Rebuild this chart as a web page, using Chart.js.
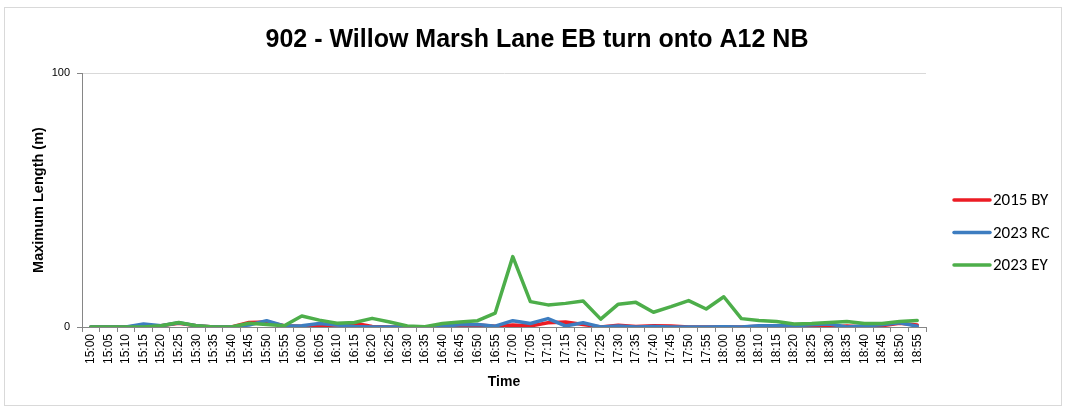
<!DOCTYPE html>
<html>
<head>
<meta charset="utf-8">
<script src="https://cdn.jsdelivr.net/npm/chart.js@4/dist/chart.umd.min.js"></script>
<style>
  html, body { margin: 0; padding: 0; background: #ffffff; }
  #wrap { position: absolute; left: 4px; top: 7px; width: 1056px; height: 397px; border: 1px solid #d9d9d9; }
  canvas { display: block; }
</style>
</head>
<body>
<div id="wrap"><canvas id="c" width="1056" height="397"></canvas></div>
<script>
const chartTitle = "902 - Willow Marsh Lane EB turn onto A12 NB";
const xTitle = "Time";
const yTitle = "Maximum Length (m)";
const times = ["15:00","15:05","15:10","15:15","15:20","15:25","15:30","15:35","15:40","15:45","15:50","15:55",
  "16:00","16:05","16:10","16:15","16:20","16:25","16:30","16:35","16:40","16:45","16:50","16:55",
  "17:00","17:05","17:10","17:15","17:20","17:25","17:30","17:35","17:40","17:45","17:50","17:55",
  "18:00","18:05","18:10","18:15","18:20","18:25","18:30","18:35","18:40","18:45","18:50","18:55"];
const seriesNames = ["2015 BY", "2023 RC", "2023 EY"];
const seriesColors = ["#ec1c24", "#3d7dc0", "#4dae4a"];
const by2015 = [0,0,0,0.5,0.5,1.5,0.5,0,0,1.8,2,0.5,
  0.3,0.5,0.8,1.5,0.2,0,0,0,0.2,0.3,0.8,0.3,
  0.8,0.4,1.7,2,1,0,0.7,0.2,0.5,0.4,0,0,
  0,0,0.3,0,0,0.5,0,0.4,0,0.5,1.5,0.8];
const rc2023 = [0,0,0,1.2,0.5,1.7,0.5,0,0,0.8,2.5,0.4,
  0.5,1.4,0.8,0.2,0,0,0,0,0.3,0.9,1,0.3,
  2.5,1.4,3.3,0.4,1.7,0,0.4,0,0.2,0,0,0,
  0.1,0,0.5,0.5,0.5,0.9,1.2,0,0.5,0.9,1.7,0.3];
const ey2023 = [0,0,0,0,0.5,1.8,0.5,0,0,1.5,1,0.5,
  4.3,2.7,1.5,1.8,3.4,2,0.4,0.1,1.4,2,2.5,5.5,
  27.7,10,8.7,9.3,10.2,3.1,9,9.7,5.8,8,10.4,7.1,
  11.9,3.3,2.6,2.2,1.2,1.4,1.8,2.2,1.4,1.4,2.2,2.6];
const yTicks = [0, 100];

const seriesData = [by2015, rc2023, ey2023];

const overlay = {
  id: 'overlay',
  afterDraw(chart) {
    const ctx = chart.ctx;
    ctx.save();
    // title
    ctx.fillStyle = '#000';
    ctx.font = 'bold 25px "Liberation Sans", Arial, sans-serif';
    ctx.textAlign = 'center';
    ctx.textBaseline = 'alphabetic';
    ctx.fillText(chartTitle, 532, 39);
    // legend
    const ys = [192, 224.5, 257];
    chart.data.datasets.forEach((ds, i) => {
      ctx.strokeStyle = ds.borderColor;
      ctx.lineWidth = 3.5;
      ctx.lineCap = 'round';
      ctx.beginPath();
      ctx.moveTo(949, ys[i]);
      ctx.lineTo(985, ys[i]);
      ctx.stroke();
      ctx.fillStyle = '#000';
      ctx.font = '17px Calibri, Carlito, Lato, sans-serif';
      ctx.textAlign = 'left';
      ctx.textBaseline = 'middle';
      ctx.fillText(ds.label, 988, ys[i] + 1);
    });
    ctx.restore();
  }
};

new Chart(document.getElementById('c'), {
  type: 'line',
  data: {
    labels: times,
    datasets: seriesData.map((d, i) => ({
      label: seriesNames[i],
      data: d,
      borderColor: seriesColors[i],
      backgroundColor: seriesColors[i],
      borderWidth: 3.5,
      pointRadius: 0,
      tension: 0,
      borderJoinStyle: 'round',
      borderCapStyle: 'round',
      order: 3 - i
    }))
  },
  options: {
    responsive: false,
    animation: false,
    layout: { padding: { top: 65, left: 0, right: 135, bottom: 0 } },
    plugins: {
      legend: { display: false },
      title: { display: false },
      tooltip: { enabled: false }
    },
    scales: {
      x: {
        type: 'category',
        offset: true,
        afterFit(s) { s.height = 78; },
        grid: { offset: true, drawOnChartArea: false, drawTicks: true, tickLength: 5, color: '#868686', tickColor: '#868686' },
        border: { color: '#868686', width: 1 },
        ticks: { autoSkip: false, minRotation: 90, maxRotation: 90, padding: 2, color: '#000',
                 font: { family: '"Liberation Sans", Arial, sans-serif', size: 12 } },
        title: { display: true, text: xTitle, color: '#000', padding: { top: 0, bottom: 14 },
                 font: { family: '"Liberation Sans", Arial, sans-serif', size: 14, weight: 'bold' } }
      },
      y: {
        min: 0, max: 100,
        afterFit(s) { s.width = 77; },
        afterBuildTicks(s) { s.ticks = yTicks.map(v => ({ value: v })); },
        grid: { color: (c) => c.tick && c.tick.value === 100 ? '#d9d9d9' : 'rgba(0,0,0,0)', tickColor: '#868686', tickLength: 5 },
        border: { color: '#868686', width: 1 },
        ticks: { padding: 7, color: '#000', font: { family: '"Liberation Sans", Arial, sans-serif', size: 11 } },
        title: { display: true, text: yTitle, color: '#000', padding: { top: 25, bottom: 0 },
                 font: { family: '"Liberation Sans", Arial, sans-serif', size: 14.5, weight: 'bold' } }
      }
    }
  },
  plugins: [overlay]
});
</script>
</body>
</html>
